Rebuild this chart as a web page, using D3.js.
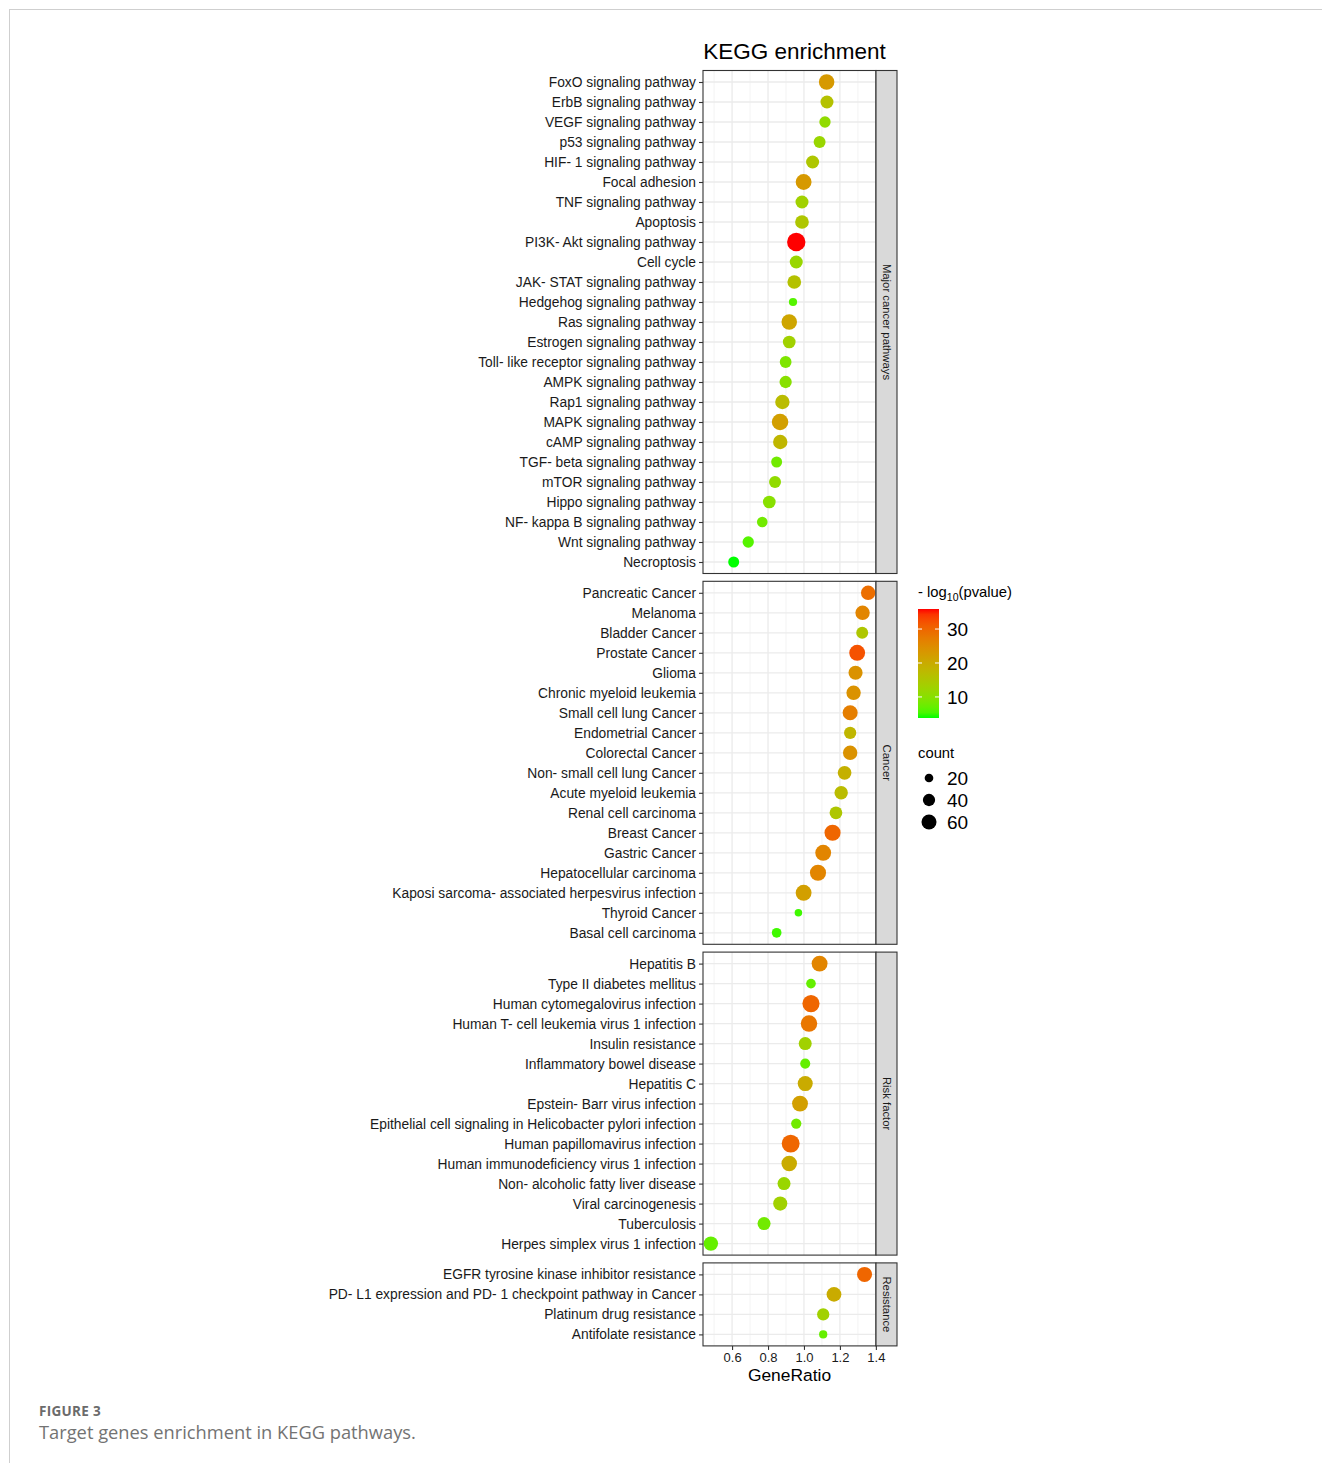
<!DOCTYPE html>
<html>
<head>
<meta charset="utf-8">
<script src="https://cdn.jsdelivr.net/npm/d3@7"></script>
<style>
  html, body { margin: 0; padding: 0; background: #fff; }
  svg { display: block; font-family: "Liberation Sans", Arial, sans-serif; }
</style>
</head>
<body>
<svg id="chart" width="1322" height="1463"></svg>
<script>
// KEGG enrichment dot plot: GeneRatio on x, pathways faceted by category.
const categories = ["Major cancer pathways", "Cancer", "Risk factor", "Resistance"];

const pathways = [
  // Major cancer pathways
  "FoxO signaling pathway", "ErbB signaling pathway", "VEGF signaling pathway", "p53 signaling pathway",
  "HIF- 1 signaling pathway", "Focal adhesion", "TNF signaling pathway", "Apoptosis",
  "PI3K- Akt signaling pathway", "Cell cycle", "JAK- STAT signaling pathway", "Hedgehog signaling pathway",
  "Ras signaling pathway", "Estrogen signaling pathway", "Toll- like receptor signaling pathway",
  "AMPK signaling pathway", "Rap1 signaling pathway", "MAPK signaling pathway", "cAMP signaling pathway",
  "TGF- beta signaling pathway", "mTOR signaling pathway", "Hippo signaling pathway",
  "NF- kappa B signaling pathway", "Wnt signaling pathway", "Necroptosis",
  // Cancer
  "Pancreatic Cancer", "Melanoma", "Bladder Cancer", "Prostate Cancer", "Glioma", "Chronic myeloid leukemia",
  "Small cell lung Cancer", "Endometrial Cancer", "Colorectal Cancer", "Non- small cell lung Cancer",
  "Acute myeloid leukemia", "Renal cell carcinoma", "Breast Cancer", "Gastric Cancer",
  "Hepatocellular carcinoma", "Kaposi sarcoma- associated herpesvirus infection", "Thyroid Cancer",
  "Basal cell carcinoma",
  // Risk factor
  "Hepatitis B", "Type II diabetes mellitus", "Human cytomegalovirus infection",
  "Human T- cell leukemia virus 1 infection", "Insulin resistance", "Inflammatory bowel disease",
  "Hepatitis C", "Epstein- Barr virus infection", "Epithelial cell signaling in Helicobacter pylori infection",
  "Human papillomavirus infection", "Human immunodeficiency virus 1 infection",
  "Non- alcoholic fatty liver disease", "Viral carcinogenesis", "Tuberculosis", "Herpes simplex virus 1 infection",
  // Resistance
  "EGFR tyrosine kinase inhibitor resistance", "PD- L1 expression and PD- 1 checkpoint pathway in Cancer",
  "Platinum drug resistance", "Antifolate resistance"
];

const groups = [
  ...Array(25).fill("Major cancer pathways"),
  ...Array(18).fill("Cancer"),
  ...Array(15).fill("Risk factor"),
  ...Array(4).fill("Resistance")
];

const geneRatio = [
  1.126, 1.128, 1.117, 1.087, 1.048, 0.998, 0.989, 0.989, 0.957, 0.957, 0.946, 0.939,
  0.918, 0.918, 0.898, 0.898, 0.880, 0.867, 0.868, 0.848, 0.839, 0.807, 0.768, 0.690, 0.609,
  1.357, 1.326, 1.324, 1.296, 1.287, 1.276, 1.257, 1.257, 1.257, 1.226, 1.207, 1.178, 1.159,
  1.107, 1.078, 0.998, 0.969, 0.848,
  1.087, 1.039, 1.039, 1.028, 1.007, 1.007, 1.007, 0.978, 0.957, 0.926, 0.918, 0.889, 0.868,
  0.778, 0.482,
  1.337, 1.167, 1.107, 1.107
];

const counts = [
  64, 45, 34, 38, 45, 67, 45, 50, 90, 45, 50, 18,
  64, 43, 37, 40, 55, 72, 55, 32, 38, 43, 30, 34, 32,
  55, 55, 38, 67, 53, 55, 60, 40, 55, 50, 48, 43, 69, 67, 69, 67, 15, 25,
  67, 25, 78, 72, 45, 27, 60, 67, 28, 85, 64, 45, 53, 45, 55,
  60, 58, 40, 18
];

const negLog10P = [
  23, 16, 11, 12, 15, 23, 13, 15, 35.9, 12, 16, 6,
  21, 13, 9, 10, 17, 22, 18, 8, 11, 10, 8, 6, 3.8,
  29, 26, 15, 32, 24, 24, 27, 18, 24, 19, 17, 15, 30, 26, 26, 22, 5, 5,
  26, 7, 30, 28, 13, 7, 20, 22, 8, 30, 20, 12, 13, 8, 7,
  30, 20, 13, 7
];

const xTicks = [0.6, 0.8, 1.0, 1.2, 1.4];
const xMinorTicks = [0.5, 0.7, 0.9, 1.1, 1.3];
const colorTicks = [10, 20, 30];
const sizeBreaks = [20, 40, 60];

const data = pathways.map((p, i) => ({
  pathway: p, group: groups[i], ratio: geneRatio[i], count: counts[i], p: negLog10P[i]
}));

const svg = d3.select("#chart");

// outer figure frame
svg.append("rect")
  .attr("x", 9.5).attr("y", 9.5).attr("width", 1400).attr("height", 1500)
  .attr("fill", "none").attr("stroke", "#cfcfcf").attr("stroke-width", 1);

// layout
const panelLeft = 703, panelRight = 876;
const stripW = 21;
const step = 20, expand = 11.5, gap = 7.8;
let panelTop = 70.5;

// x scale with 5% expansion around the data range
const [xmin, xmax] = d3.extent(data, d => d.ratio);
const xpad = (xmax - xmin) * 0.05;
const x = d3.scaleLinear().domain([xmin - xpad, xmax + xpad]).range([panelLeft, panelRight]);

const color = d3.scaleLinear()
  .domain(d3.extent(data, d => d.p))
  .range(["#00FF00", "#FF0000"])
  .interpolate(d3.interpolateLab);

const size = d3.scaleSqrt().domain([0, 100]).range([0, 9.7]);

const panels = [];
categories.forEach(cat => {
  const rows = data.filter(d => d.group === cat);
  const h = (rows.length - 1) * step + 2 * expand;
  const y = d3.scalePoint().domain(rows.map(d => d.pathway))
    .range([panelTop + expand, panelTop + h - expand]);
  panels.push({ cat, rows, top: panelTop, h, y });
  panelTop += h + gap;
});

panels.forEach(pn => {
  const g = svg.append("g");
  // panel background
  g.append("rect").attr("x", panelLeft).attr("y", pn.top)
    .attr("width", panelRight - panelLeft).attr("height", pn.h).attr("fill", "#fff");
  // minor vertical grid
  g.selectAll(".vminor").data(xMinorTicks).join("line").attr("class", "vminor")
    .attr("x1", d => x(d)).attr("x2", d => x(d))
    .attr("y1", pn.top).attr("y2", pn.top + pn.h)
    .attr("stroke", "#f0f0f0").attr("stroke-width", 0.8);
  // major vertical grid
  g.selectAll(".vmajor").data(xTicks).join("line").attr("class", "vmajor")
    .attr("x1", d => x(d)).attr("x2", d => x(d))
    .attr("y1", pn.top).attr("y2", pn.top + pn.h)
    .attr("stroke", "#ebebeb").attr("stroke-width", 1.3);
  // horizontal grid
  g.selectAll(".hmajor").data(pn.rows).join("line").attr("class", "hmajor")
    .attr("x1", panelLeft).attr("x2", panelRight)
    .attr("y1", d => pn.y(d.pathway)).attr("y2", d => pn.y(d.pathway))
    .attr("stroke", "#ebebeb").attr("stroke-width", 1.3);

  // points
  g.selectAll("circle").data(pn.rows).join("circle")
    .attr("cx", d => x(d.ratio)).attr("cy", d => pn.y(d.pathway))
    .attr("r", d => size(d.count))
    .attr("fill", d => color(d.p));

  // panel border
  g.append("rect").attr("x", panelLeft).attr("y", pn.top)
    .attr("width", panelRight - panelLeft).attr("height", pn.h)
    .attr("fill", "none").attr("stroke", "#333").attr("stroke-width", 1.1);

  // y axis
  const yAxis = d3.axisLeft(pn.y).tickSize(4).tickPadding(3);
  const ga = svg.append("g").attr("transform", `translate(${panelLeft},0)`).call(yAxis);
  ga.select(".domain").remove();
  ga.selectAll(".tick line").attr("stroke", "#333").attr("stroke-width", 1.1);
  ga.selectAll(".tick text").attr("fill", "#1a1a1a")
    .style("font-size", "13.8px").style("font-family", "'Liberation Sans', Arial, sans-serif");

  // facet strip
  g.append("rect").attr("x", panelRight).attr("y", pn.top)
    .attr("width", stripW).attr("height", pn.h)
    .attr("fill", "#d9d9d9").attr("stroke", "#333").attr("stroke-width", 1.1);
  g.append("text")
    .attr("transform", `translate(${panelRight + stripW / 2},${pn.top + pn.h / 2}) rotate(90)`)
    .attr("text-anchor", "middle").attr("dy", "0.35em")
    .attr("fill", "#1a1a1a").style("font-size", "11.3px")
    .text(pn.cat);
});

// x axis under the last panel
const last = panels[panels.length - 1];
const xAxis = d3.axisBottom(x).tickValues(xTicks).tickFormat(d3.format(".1f")).tickSize(4).tickPadding(3);
const gx = svg.append("g").attr("transform", `translate(0,${last.top + last.h})`).call(xAxis);
gx.select(".domain").remove();
gx.selectAll(".tick line").attr("stroke", "#333").attr("stroke-width", 1.1);
gx.selectAll(".tick text").attr("fill", "#1a1a1a")
  .style("font-size", "13px").style("font-family", "'Liberation Sans', Arial, sans-serif");

svg.append("text").attr("x", (panelLeft + panelRight) / 2).attr("y", 1381)
  .attr("text-anchor", "middle").attr("fill", "#000").style("font-size", "17.4px")
  .text("GeneRatio");

// title
svg.append("text").attr("x", 794.5).attr("y", 59)
  .attr("text-anchor", "middle").attr("fill", "#000").style("font-size", "22.5px")
  .text("KEGG enrichment");

// colour legend
const lg = svg.append("g");
const ttl = lg.append("text").attr("x", 918).attr("y", 597).attr("fill", "#000").style("font-size", "14.8px");
ttl.append("tspan").text("- log");
ttl.append("tspan").attr("dy", 3.5).style("font-size", "10.5px").text("10");
ttl.append("tspan").attr("dy", -3.5).text("(pvalue)");

const barX = 918, barW = 21, barTop = 609, barBot = 718;
const cScale = d3.scaleLinear().domain(color.domain()).range([barBot, barTop]);
const defs = svg.append("defs");
const grad = defs.append("linearGradient").attr("id", "pgrad")
  .attr("x1", 0).attr("y1", 1).attr("x2", 0).attr("y2", 0);
d3.range(0, 1.0001, 0.05).forEach(t => {
  const v = color.domain()[0] + t * (color.domain()[1] - color.domain()[0]);
  grad.append("stop").attr("offset", t).attr("stop-color", color(v));
});
lg.append("rect").attr("x", barX).attr("y", barTop).attr("width", barW).attr("height", barBot - barTop)
  .attr("fill", "url(#pgrad)");
colorTicks.forEach(t => {
  const yy = cScale(t);
  lg.append("line").attr("x1", barX).attr("x2", barX + 4).attr("y1", yy).attr("y2", yy)
    .attr("stroke", "#fff").attr("stroke-width", 1);
  lg.append("line").attr("x1", barX + barW - 4).attr("x2", barX + barW).attr("y1", yy).attr("y2", yy)
    .attr("stroke", "#fff").attr("stroke-width", 1);
  lg.append("text").attr("x", 947).attr("y", yy).attr("dy", "0.36em")
    .attr("fill", "#000").style("font-size", "19px").text(t);
});

// size legend
lg.append("text").attr("x", 918).attr("y", 758).attr("fill", "#000").style("font-size", "14.8px").text("count");
sizeBreaks.forEach((s, i) => {
  const yy = 778 + i * 22;
  lg.append("circle").attr("cx", 929).attr("cy", yy).attr("r", size(s)).attr("fill", "#000");
  lg.append("text").attr("x", 947).attr("y", yy).attr("dy", "0.36em")
    .attr("fill", "#000").style("font-size", "19px").text(s);
});

// caption
svg.append("text").attr("x", 39).attr("y", 1416).attr("fill", "#6b6b6b")
  .style("font-family", "'Open Sans', Lato, sans-serif").style("font-size", "13.5px")
  .style("font-weight", "700").style("letter-spacing", "0.3px")
  .text("FIGURE 3");
svg.append("text").attr("x", 39).attr("y", 1439).attr("fill", "#737373")
  .style("font-family", "'Open Sans', Lato, sans-serif").style("font-size", "18.3px")
  .text("Target genes enrichment in KEGG pathways.");
</script>
</body>
</html>
